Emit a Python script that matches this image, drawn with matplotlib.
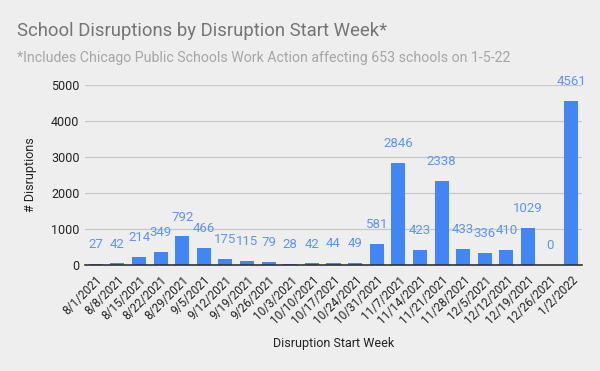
import matplotlib
matplotlib.use("Agg")
import matplotlib.pyplot as plt

weeks = ["8/1/2021", "8/8/2021", "8/15/2021", "8/22/2021", "8/29/2021", "9/5/2021",
         "9/12/2021", "9/19/2021", "9/26/2021", "10/3/2021", "10/10/2021", "10/17/2021",
         "10/24/2021", "10/31/2021", "11/7/2021", "11/14/2021", "11/21/2021", "11/28/2021",
         "12/5/2021", "12/12/2021", "12/19/2021", "12/26/2021", "1/2/2022"]
disruptions = [27, 42, 214, 349, 792, 466, 175, 115, 79, 28, 42, 44, 49, 581, 2846,
               423, 2338, 433, 336, 410, 1029, 0, 4561]
yticks = [0, 1000, 2000, 3000, 4000, 5000]

plt.rcParams['font.family'] = ['Roboto', 'DejaVu Sans']
bg = '#eeeeee'
fig = plt.figure(figsize=(6, 3.71), dpi=100, facecolor=bg)
ax = fig.add_axes([85/600, 1-265/371, 497/600, 180/371], facecolor=bg)

x = list(range(len(weeks)))
ax.bar(x, disruptions, width=0.65, color='#4285f4', zorder=3)
for xi, v in zip(x, disruptions):
    ax.annotate(str(v), (xi, v), xytext=(0, 14), textcoords='offset points',
                ha='center', va='center', color='#5b95f5', fontsize=9.5, zorder=4)

ax.set_xlim(-0.5, len(weeks) - 0.5)
ax.set_ylim(0, 5000)
ax.set_yticks(yticks)
ax.set_yticklabels([str(t) for t in yticks], fontsize=9, color='#222222')
ax.set_xticks(x)
ax.set_xticklabels(weeks, rotation=45, ha='right', rotation_mode='anchor',
                   fontsize=8.5, color='#222222')
ax.tick_params(length=0, pad=4)
ax.tick_params(axis='x', pad=6)
ax.grid(axis='y', color='#c8c8c8', linewidth=0.9, zorder=0)
for s in ['top', 'right', 'left']:
    ax.spines[s].set_visible(False)
ax.spines['bottom'].set_color('#333333')
ax.spines['bottom'].set_linewidth(1.2)
ax.spines['bottom'].set_zorder(5)

ax.set_ylabel('# Disruptions', fontsize=9, color='#222222', labelpad=10)
fig.text(334/600, 1-344/371, 'Disruption Start Week', ha='center', va='center',
         fontsize=9, color='#222222')

fig.text(17/600, 1-31/371, 'School Disruptions by Disruption Start Week*',
         fontsize=13.3, color='#757575', va='center')
fig.text(17/600, 1-58/371, '*Includes Chicago Public Schools Work Action affecting 653 schools on 1-5-22',
         fontsize=10.2, color='#a6a6a6', va='center')

fig.savefig('out.png', dpi=100, facecolor=bg)
